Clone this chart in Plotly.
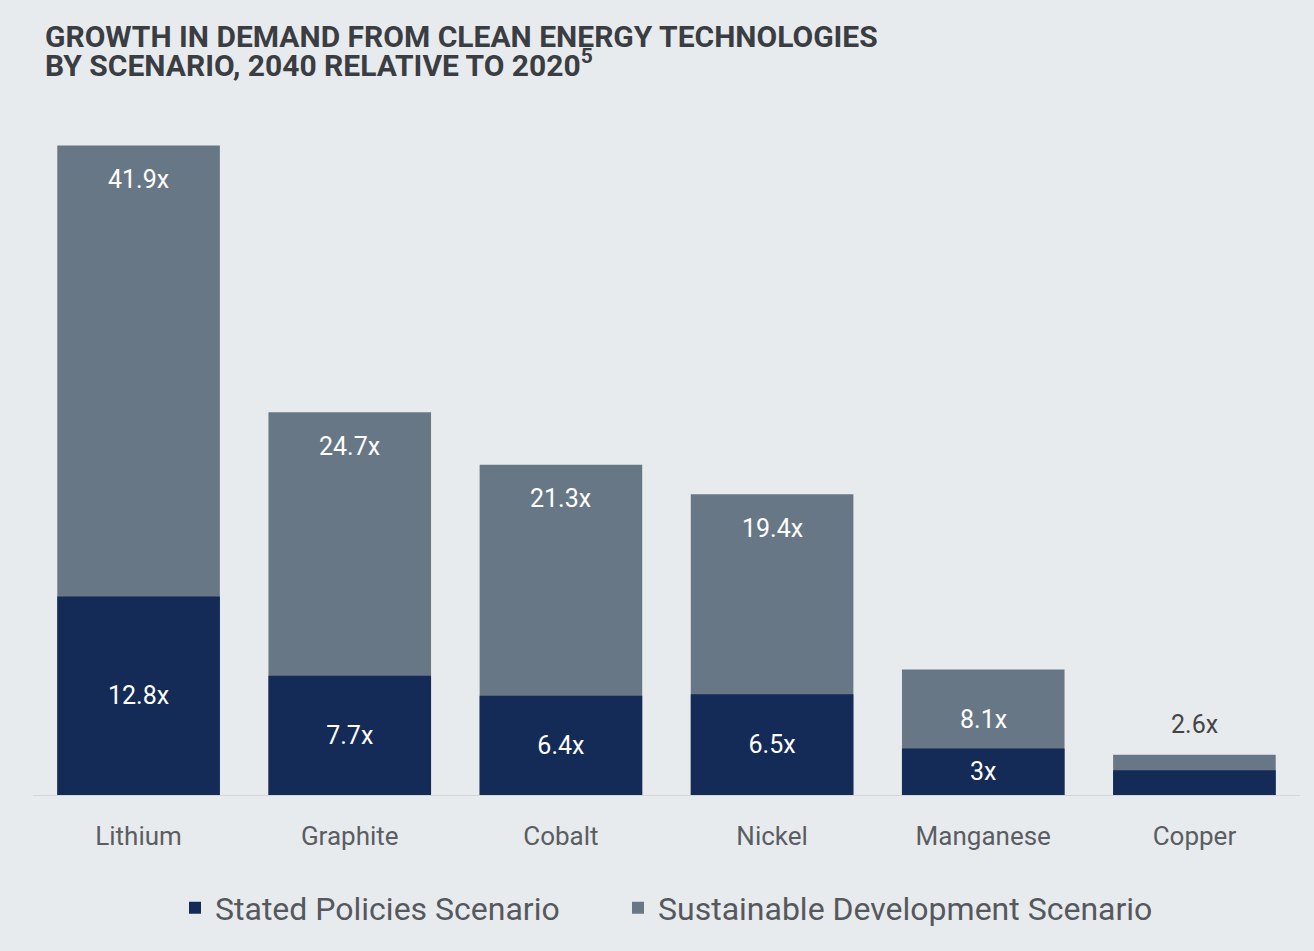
import plotly.graph_objects as go

minerals = ["Lithium", "Graphite", "Cobalt", "Nickel", "Manganese", "Copper"]
stated = [12.8, 7.7, 6.4, 6.5, 3.0, 1.6]
stated_labels = ["12.8x", "7.7x", "6.4x", "6.5x", "3x", ""]
sustainable = [41.9, 24.7, 21.3, 19.4, 8.1, 2.6]
sustainable_labels = ["41.9x", "24.7x", "21.3x", "19.4x", "8.1x", "2.6x"]
title_lines = ["<b>GROWTH IN DEMAND FROM CLEAN ENERGY TECHNOLOGIES</b>",
               "<b>BY SCENARIO, 2040 RELATIVE TO 2020<sup>5</sup></b>"]

BG = "#e8ebee"
NAVY = "#142a57"
GREY = "#687785"
LABEL_SIZE = 25
PW = 1314 - 33 - 14
PH = 795 - 113

fig = go.Figure()
fig.add_trace(go.Bar(
    x=minerals, y=sustainable, name="Sustainable Development Scenario",
    marker=dict(color=GREY, line=dict(width=0)), hoverinfo="x+y",
    legend="legend2",
))
fig.add_trace(go.Bar(
    x=minerals, y=stated, name="Stated Policies Scenario",
    marker=dict(color=NAVY, line=dict(width=0)),
    text=stated_labels, textposition="inside", insidetextanchor="middle",
    textfont=dict(family="Roboto", size=LABEL_SIZE, color="white"),
    textangle=0, constraintext="none",
    legend="legend",
))

for m, v, lab in zip(minerals, sustainable, sustainable_labels):
    if v < 5:
        shift, col = 30, "#444444"
    elif v < 10:
        shift, col = -50, "white"
    else:
        shift, col = -34, "white"
    fig.add_annotation(x=m, y=v, text=lab, showarrow=False, yshift=shift,
                       font=dict(family="Roboto", size=LABEL_SIZE, color=col))

for i, line in enumerate(title_lines):
    yc = 36 + 27 * i
    fig.add_annotation(
        text=line, xref="paper", yref="paper",
        x=(43 - 33) / PW, y=1 + (113 - yc) / PH,
        xanchor="left", yanchor="middle", align="left", showarrow=False,
        font=dict(family="Roboto", size=30, color="#3a3d42"),
    )

legend_common = dict(
    orientation="h", xanchor="left", y=-(908 - 795) / PH, yanchor="middle",
    font=dict(family="Roboto", size=32, color="#55585d"),
    bgcolor="rgba(0,0,0,0)", itemwidth=30,
)

fig.update_layout(
    barmode="overlay",
    bargap=0.23,
    width=1314, height=951,
    paper_bgcolor=BG, plot_bgcolor=BG,
    margin=dict(l=33, r=14, t=113, b=156, autoexpand=False),
    xaxis=dict(
        showline=True, linecolor="#d3d7db", linewidth=1,
        tickfont=dict(family="Roboto", size=26, color="#5a5d62"),
        ticks="", showgrid=False, ticklabelstandoff=18,
    ),
    yaxis=dict(range=[0, 44], visible=False, showgrid=False, zeroline=False),
    legend=dict(x=(175 - 33) / PW, **legend_common),
    legend2=dict(x=(618 - 33) / PW, **legend_common),
    showlegend=True,
)

fig.write_html("out.html")
